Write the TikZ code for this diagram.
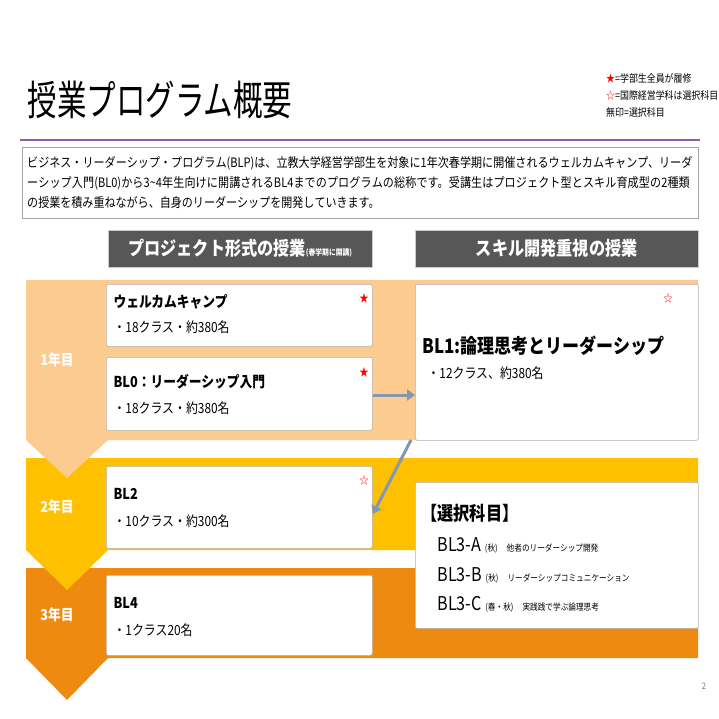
\documentclass[tikz,border=0pt]{standalone}
\usepackage{fontspec}
\setmainfont{Noto Sans CJK JP}[FakeStretch=0.85]
\newfontfamily\titlefont{Noto Sans CJK JP}[FakeStretch=0.72]
\XeTeXlinebreaklocale "ja"
\XeTeXlinebreakskip=0pt plus 1pt
\usetikzlibrary{arrows.meta}
\definecolor{lor}{HTML}{FBCB8F}
\definecolor{yor}{HTML}{FFC000}
\definecolor{dor}{HTML}{EE8A10}
\definecolor{hdr}{HTML}{575757}
\definecolor{purp}{HTML}{8E5CA8}
\definecolor{arrc}{HTML}{8497B0}
\tikzset{
 wbox/.style={draw=gray!60,fill=white,rounded corners=2pt,line width=0.6pt},
 hbar/.style={fill=hdr,draw=gray!40},
 yr/.style={text=white,font=\fontsize{15}{15}\selectfont\bfseries},
 ttl/.style={anchor=west,font=\fontsize{15}{16}\selectfont\bfseries},
 sub/.style={anchor=west,font=\fontsize{14}{15}\selectfont},
 st/.style={text=red,font=\fontsize{11}{11}\selectfont},
 arr/.style={draw=arrc,line width=3pt,-{Triangle[length=8pt,width=11pt]}}
}
\begin{document}
\begin{tikzpicture}[x=1pt,y=-1pt]
\useasboundingbox (0,0) rectangle (719,719);
\fill[white] (0,0) rectangle (719,719);
\node[anchor=west,font=\titlefont\fontsize{41}{42}\selectfont] (title) at (24,100) {授業プログラム概要};
\draw[purp,line width=1.2pt] (20,140) -- (700,140);
\node[anchor=west,font=\fontsize{10.5}{17}\selectfont,align=left,inner sep=0] (leg) at (606,95) {{\color{red}★}=学部生全員が履修\\{\color{red}☆}=国際経営学科は選択科目\\無印=選択科目};
\node[draw=gray!70,anchor=north west,minimum width=676,minimum height=71,text width=666,align=left,font=\fontsize{13}{20}\selectfont,inner sep=4pt] (desc) at (22,147) {ビジネス・リーダーシップ・プログラム(BLP)は、立教大学経営学部生を対象に1年次春学期に開催されるウェルカムキャンプ、リーダーシップ入門(BL0)から3\textasciitilde4年生向けに開講されるBL4までのプログラムの総称です。受講生はプロジェクト型とスキル育成型の2種類の授業を積み重ねながら、自身のリーダーシップを開発していきます。};
\node[hbar,anchor=north west,minimum width=264,minimum height=37,text=white] (h1) at (108,230) {\fontsize{19}{19}\selectfont\bfseries プロジェクト形式の授業\fontsize{8}{8}\selectfont(春学期に開講)};
\node[hbar,anchor=north west,minimum width=283,minimum height=37,text=white] (h2) at (415,230) {\fontsize{19}{19}\selectfont\bfseries スキル開発重視の授業};
% bands
\fill[dor] (26,568) -- (698,568) -- (698,658) -- (108,658) -- (67,700) -- (26,658) -- cycle;
\fill[yor] (26,458) -- (698,458) -- (698,550) -- (108,550) -- (67,590) -- (26,550) -- cycle;
\fill[lor] (26,280) -- (698,280) -- (698,440) -- (108,440) -- (67,478) -- (26,440) -- cycle;
\node[yr] (y1) at (57,360) {1年目};
\node[yr] (y2) at (57,507) {2年目};
\node[yr] (y3) at (57,615) {3年目};
% boxes
\node[wbox,anchor=north west,minimum width=266,minimum height=62] (wc) at (106,284) {};
\node[ttl] at (110,302) {ウェルカムキャンプ};
\node[sub] at (110,327) {・18クラス・約380名};
\node[st] at (364,298) {★};
\node[wbox,anchor=north west,minimum width=266,minimum height=73] (bl0) at (106,357) {};
\node[ttl] at (110,382) {BL0：リーダーシップ入門};
\node[sub] at (110,408) {・18クラス・約380名};
\node[st] at (364,372) {★};
\node[wbox,anchor=north west,minimum width=283,minimum height=156] (bl1) at (415,284) {};
\node[anchor=west,font=\fontsize{20}{20}\selectfont\bfseries] at (419,346) {BL1:論理思考とリーダーシップ};
\node[sub] at (424,373) {・12クラス、約380名};
\node[st] at (668,298) {☆};
\node[wbox,anchor=north west,minimum width=266,minimum height=82] (bl2) at (106,466) {};
\node[ttl] at (110,494) {BL2};
\node[sub] at (110,521) {・10クラス・約300名};
\node[st] at (364,480) {☆};
\node[wbox,anchor=north west,minimum width=283,minimum height=146] (el) at (415,482) {};
\node[anchor=west,font=\fontsize{19}{18}\selectfont\bfseries] at (418,513) {【選択科目】};
\node[anchor=west,font=\fontsize{19}{17}\selectfont] at (434,545) {BL3-A {\fontsize{9}{9}\selectfont(秋)\quad 他者のリーダーシップ開発}};
\node[anchor=west,font=\fontsize{19}{17}\selectfont] at (434,575) {BL3-B {\fontsize{9}{9}\selectfont(秋)\quad リーダーシップコミュニケーション}};
\node[anchor=west,font=\fontsize{19}{17}\selectfont] at (434,604) {BL3-C {\fontsize{9}{9}\selectfont(春・秋)\quad 実践践で学ぶ論理思考}};
\node[wbox,anchor=north west,minimum width=266,minimum height=80] (bl4) at (106,575) {};
\node[ttl] at (110,603) {BL4};
\node[sub] at (110,630) {・1クラス20名};
\draw[arr] (bl0.east |- 0,395) -- (bl1.west |- 0,395);
\coordinate (a1) at (411,440);
\coordinate (a2) at (373,514);
\draw[arr] (a1) -- (a2);
\node[text=gray,font=\fontsize{9}{9}\selectfont] (pg) at (704,686) {2};
\end{tikzpicture}
\end{document}
